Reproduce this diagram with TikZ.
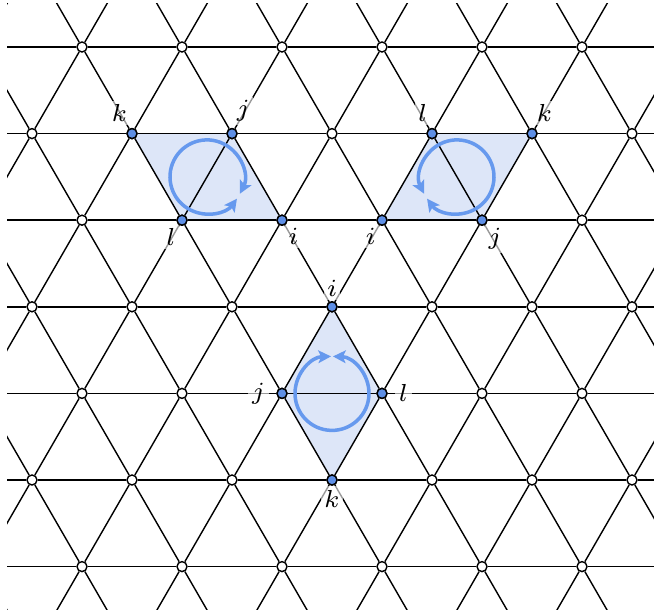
\documentclass[tikz,border=0pt]{standalone}
\usepackage{tikz}
\usetikzlibrary{arrows.meta, positioning, calc, backgrounds}
\usepackage{xcolor}
\definecolor{spin}{HTML}{5E8FE6}
\definecolor{ringcol}{HTML}{6699EE}
\definecolor{plaq}{HTML}{DDE6F8}

\begin{document}
\begin{tikzpicture}[
    x=0.01cm, y=0.01cm,
    site/.style={draw, circle, fill=white, line width=0.4pt, minimum size=0.1cm, inner sep=0pt},
    hot/.style={site, fill=spin},
    bond/.style={draw, line width=0.4pt},
    ring/.style={draw=ringcol, line width=1pt, <->, >={Stealth[length=3.6pt, width=3.6pt, inset=0.8pt]}},
    lab/.style={font=\fontsize{7.5}{9}\selectfont, inner sep=1pt, fill=white, fill opacity=0.6, text opacity=1}
]
\useasboundingbox (0,0) rectangle (654,-616);

\begin{scope}
\clip (7,-4) rectangle (654,-610);
\foreach \r in {-1,...,7}
  \foreach \c in {-2,...,8}{
    \pgfmathsetmacro\px{82+100*\c-50*Mod(\r,2)}
    \pgfmathsetmacro\py{-47-86.6025*\r}
    \node[site] (n-\r-\c) at (\px,\py) {};
  }
\foreach \r in {-1,...,7}
  \foreach \c in {-2,...,7}{
    \pgfmathtruncatemacro\cn{\c+1}
    \draw[bond] (n-\r-\c) -- (n-\r-\cn);
  }
\foreach \r in {-1,...,6}
  \foreach \c in {-1,...,7}{
    \pgfmathtruncatemacro\rn{\r+1}
    \pgfmathtruncatemacro\cn{\c+1}
    \pgfmathtruncatemacro\cp{\c-1}
    \ifodd\r
      \draw[bond] (n-\r-\c) -- (n-\rn-\cp);
      \draw[bond] (n-\r-\c) -- (n-\rn-\c);
    \else
      \draw[bond] (n-\r-\c) -- (n-\rn-\c);
      \draw[bond] (n-\r-\c) -- (n-\rn-\cn);
    \fi
  }
\end{scope}

\begin{scope}[on background layer]
\fill[plaq] (n-1-1.center) -- (n-1-2.center) -- (n-2-2.center) -- (n-2-1.center) -- cycle;
\fill[plaq] (n-1-4.center) -- (n-1-5.center) -- (n-2-4.center) -- (n-2-3.center) -- cycle;
\fill[plaq] (n-3-3.center) -- (n-4-3.center) -- (n-5-3.center) -- (n-4-2.center) -- cycle;
\end{scope}

\node[lab, above left=1.2pt and -1pt of n-1-1] (k1) {$k$};
\node[lab, above right=1.2pt and -1pt of n-1-2] (j1) {$j$};
\node[lab, below left=0pt and -0.5pt of n-2-1] (l1) {$l$};
\node[lab, below right=0pt and -0.5pt of n-2-2] (i1) {$i$};
\node[lab, above left=1.2pt and -1pt of n-1-4] (l2) {$l$};
\node[lab, above right=1.2pt and -1pt of n-1-5] (k2) {$k$};
\node[lab, below left=0pt and -0.5pt of n-2-3] (i2) {$i$};
\node[lab, below right=0pt and -0.5pt of n-2-4] (j2) {$j$};
\node[lab, above=0pt of n-3-3] (i3) {$i$};
\node[lab, left=2pt of n-4-2] (j3) {$j$};
\node[lab, right=2pt of n-4-3] (l3) {$l$};
\node[lab, below=0pt of n-5-3] (k3) {$k$};

\foreach \p in {1-1,1-2,2-1,2-2,1-4,1-5,2-3,2-4,3-3,4-2,4-3,5-3}
  \node[hot] (b-\p) at (n-\p) {};

\coordinate (c1) at ($(n-1-1)!0.5!(n-2-2)$);
\coordinate (c2) at ($(n-1-4)!0.5!(n-2-4)$);
\coordinate (c3) at ($(n-3-3)!0.5!(n-5-3)$);

\draw[ring] ($(c1)+(-27:37)$) arc[start angle=-27, end angle=324, radius=37];
\draw[ring] ($(c2)+(207:37)$) arc[start angle=207, end angle=-144, radius=37];
\draw[ring] ($(c3)+(88.5:37)$) arc[start angle=88.5, end angle=-268.5, radius=37];

\end{tikzpicture}
\end{document}
